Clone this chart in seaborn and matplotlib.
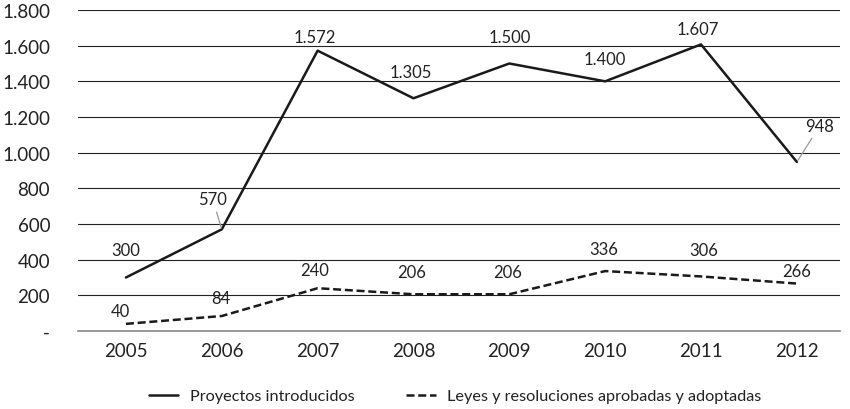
import seaborn as sns
import matplotlib.pyplot as plt
import pandas as pd

# Data
years = ["2005", "2006", "2007", "2008", "2009", "2010", "2011", "2012"]
proyectos = [300, 570, 1572, 1305, 1500, 1400, 1607, 948]
leyes = [40, 84, 240, 206, 206, 336, 306, 266]

sns.set_theme(style="white")
plt.rcParams["font.family"] = ["Lato", "DejaVu Sans"]

fig = plt.figure(figsize=(8.5, 4.1), dpi=100)
ax = fig.add_axes([78 / 850, 1 - 332 / 410, 762 / 850, 321 / 410])

idx = list(range(len(years)))
df = pd.DataFrame({"x": idx, "proyectos": proyectos, "leyes": leyes})

dash = (0, (3.2, 1.5))
sns.lineplot(data=df, x="x", y="proyectos", ax=ax, color="#1a1a1a", lw=1.8,
             label="Proyectos introducidos")
sns.lineplot(data=df, x="x", y="leyes", ax=ax, color="#1a1a1a", lw=1.8,
             linestyle=dash, label="Leyes y resoluciones aprobadas y adoptadas")

ax.set_ylim(0, 1800)
ax.set_xlim(-0.5, 7.45)
ax.set_yticks(range(0, 1801, 200))
ax.set_yticklabels(["-"] + [f"{v:,}".replace(",", ".") for v in range(200, 1801, 200)])
ax.set_xticks(idx)
ax.set_xticklabels(years)
ax.tick_params(axis="both", labelsize=13.5, colors="#222222", length=0)
ax.tick_params(axis="y", pad=20)
ax.tick_params(axis="x", pad=8)
ax.grid(axis="y", color="#222222", lw=0.8)
ax.set_axisbelow(True)
for s in ["top", "right", "left"]:
    ax.spines[s].set_visible(False)
ax.spines["bottom"].set_color("#888888")
ax.spines["bottom"].set_linewidth(1.2)
ax.set_xlabel("")
ax.set_ylabel("")

fmt = lambda v: f"{v:,}".replace(",", ".")
lab = dict(fontsize=12, color="#222222", ha="center", va="center")
leader = dict(arrowstyle="-", color="#999999", lw=0.9, shrinkA=1, shrinkB=1)

# labels for the solid series (offsets in points)
off_p = [(0, 20), None, (-2, 10), (-2, 19), (0, 19), (0, 16), (-2, 11), None]
for i, v in enumerate(proyectos):
    if off_p[i] is None:
        continue
    ax.annotate(fmt(v), (i, v), xytext=off_p[i], textcoords="offset points", **lab)
ax.annotate(fmt(proyectos[1]), (1, proyectos[1]), xytext=(-6.5, 21.5), textcoords="offset points",
            arrowprops=leader, **lab)
ax.annotate(fmt(proyectos[7]), (7, proyectos[7]), xytext=(16.5, 26), textcoords="offset points",
            arrowprops=leader, **lab)

# labels for the dashed series
off_l = [(-4, 9), (-1, 13), (-2, 13), (-1, 16), (-1, 16), (-1, 16), (2, 19), (0, 9)]
for i, v in enumerate(leyes):
    ax.annotate(fmt(v), (i, v), xytext=off_l[i], textcoords="offset points", **lab)

leg = ax.legend(loc="upper center", bbox_to_anchor=(0.495, -0.135), ncol=2, frameon=False,
                fontsize=11.7, handlelength=1.8, columnspacing=3.2, handletextpad=0.7)
for t in leg.get_texts():
    t.set_color("#222222")

fig.savefig("out.png", dpi=100)
